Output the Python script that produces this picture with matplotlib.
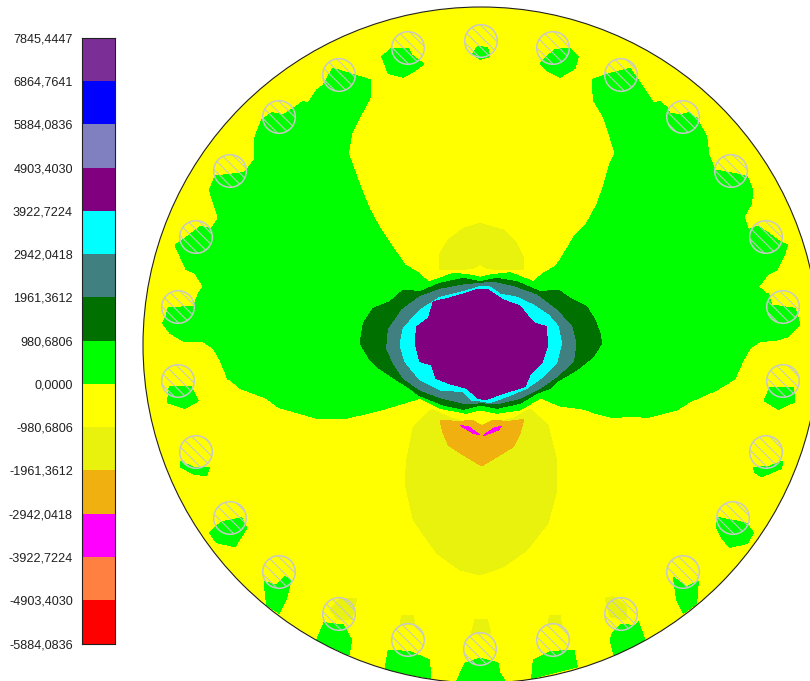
import matplotlib
matplotlib.use("Agg")
import matplotlib.pyplot as plt
import numpy as np
from matplotlib.patches import Circle

plt.rcParams['font.family'] = ['Liberation Sans', 'DejaVu Sans']
plt.rcParams['hatch.linewidth'] = 0.75

# Legend levels, top to bottom
level_labels = ['7845,4447', '6864,7641', '5884,0836', '4903,4030', '3922,7224',
                '2942,0418', '1961,3612', '980,6806', '0,0000', '-980,6806',
                '-1961,3612', '-2942,0418', '-3922,7224', '-4903,4030', '-5884,0836']
level_values = [7845.4447, 6864.7641, 5884.0836, 4903.4030, 3922.7224,
                2942.0418, 1961.3612, 980.6806, 0.0, -980.6806,
                -1961.3612, -2942.0418, -3922.7224, -4903.4030, -5884.0836]
level_colors = ['#7b2f96', '#0000ff', '#8080c0', '#800080', '#00ffff', '#408080', '#007000',
                '#00ff00', '#ffff00', '#e8f20c', '#f0b010', '#ff00ff', '#ff8040', '#ff0000']

# Disc and rotor holes, image pixels
disc_center = (481, 345)
disc_radius = 338
hole_radius = 16.3
hole_x = [481, 408, 339, 279, 230, 196, 178, 178, 196, 230, 279, 339, 408, 480,
          553, 621, 683, 731, 766, 783, 783, 766, 733, 683, 621, 553]
hole_y = [41, 48, 75, 117, 171, 237, 307, 381, 452, 518, 572, 614, 640, 649,
          48, 75, 117, 171, 237, 307, 381, 452, 518, 572, 614, 640]


def crop(points, x0, y0):
    p = np.array(points, dtype=float)
    return p[:, 0] / 3 + x0, p[:, 1] / 3 + y0


# Field contours
green_left = np.vstack([
    np.column_stack(crop([(835, 785), (800, 755), (765, 735), (720, 670), (690, 625), (660, 570),
                          (635, 510), (595, 400), (605, 340), (630, 290), (660, 235), (662, 180),
                          (615, 165), (548, 145), (520, 195), (500, 210), (475, 248), (458, 245),
                          (430, 265), (400, 285), (365, 278), (335, 300), (315, 350), (312, 420),
                          (290, 450), (280, 458), (195, 468), (178, 510), (205, 595), (185, 625),
                          (150, 620), (105, 655), (75, 675), (108, 748), (135, 760), (160, 800),
                          (145, 820)], 150, 20)),
    np.column_stack(crop([(145, 40), (130, 80), (55, 82), (48, 110), (38, 130), (60, 160), (100, 183),
                          (160, 185), (190, 205), (210, 240), (235, 300)], 150, 280)),
    np.column_stack(crop([(230, 80), (270, 115), (350, 145), (385, 172), (500, 205), (590, 205),
                          (700, 178), (810, 145)], 150, 350)),
    [[481, 345]],
])
green_right = np.vstack([
    np.column_stack(crop([(70, 785), (100, 760), (135, 740), (150, 720), (175, 680), (195, 645),
                          (230, 610), (260, 555), (280, 500), (300, 430), (315, 400), (300, 350),
                          (280, 290), (250, 240), (247, 178), (300, 160), (360, 145), (395, 195),
                          (430, 248), (450, 245), (470, 262), (480, 280), (510, 285), (535, 278),
                          (560, 295), (590, 350), (597, 405), (615, 450), (680, 462), (712, 470),
                          (728, 510), (725, 550), (702, 590), (715, 630), (745, 618), (810, 665),
                          (832, 675), (825, 700), (800, 750), (775, 762), (745, 800), (768, 820)],
                         510, 20)),
    np.column_stack(crop([(175, 40), (185, 75), (255, 85), (262, 105), (270, 135), (235, 170),
                          (200, 180), (150, 185), (120, 205), (100, 240), (75, 295)], 710, 280)),
    np.column_stack(crop([(797, 85), (740, 120), (660, 155), (620, 180), (530, 203), (490, 198),
                          (430, 203), (370, 188), (345, 178), (270, 168), (215, 145)], 470, 350)),
    [[481, 345]],
])

green_teeth = [
    crop([(5, 170), (35, 145), (85, 145), (95, 165), (132, 192), (100, 215), (70, 232), (25, 220)], 380, 0),
    crop([(278, 162), (292, 140), (322, 142), (330, 170), (300, 178)], 380, 0),
    crop([(480, 190), (525, 148), (568, 145), (595, 170), (585, 205), (540, 232), (505, 215)], 380, 0),
    crop([(58, 108), (122, 108), (145, 152), (105, 175), (52, 158)], 150, 350),
    crop([(92, 335), (130, 352), (178, 352), (170, 378), (130, 372), (90, 350)], 150, 350),
    crop([(178, 548), (215, 515), (275, 503), (290, 535), (255, 590), (200, 578)], 150, 350),
    crop([(342, 695), (380, 705), (405, 680), (423, 690), (410, 745), (388, 790), (350, 765)], 150, 350),
    crop([(522, 818), (580, 825), (605, 870), (597, 915), (500, 870)], 150, 350),
    crop([(715, 900), (780, 905), (838, 930), (843, 985), (705, 960)], 150, 350),
    crop([(945, 940), (990, 925), (1044, 939), (1050, 969), (1065, 993), (920, 993)], 150, 350),
    crop([(900, 112), (970, 112), (975, 155), (925, 178), (882, 152)], 470, 350),
    crop([(850, 352), (895, 350), (938, 333), (935, 355), (875, 380), (855, 368)], 470, 350),
    crop([(745, 503), (785, 510), (830, 520), (850, 548), (832, 580), (780, 592), (755, 565), (738, 530)], 470, 350),
    crop([(610, 682), (650, 710), (685, 695), (680, 760), (640, 790), (620, 750)], 470, 350),
    crop([(430, 845), (455, 822), (495, 828), (505, 815), (525, 870), (432, 915), (420, 870)], 470, 350),
    crop([(190, 930), (240, 905), (312, 900), (322, 950), (185, 985)], 470, 350),
]

pale_patches = [
    crop([(540, 780), (570, 745), (620, 745), (605, 810), (565, 810)], 150, 350),
    crop([(750, 825), (755, 795), (790, 795), (795, 825)], 150, 350),
    crop([(965, 850), (975, 808), (1011, 808), (1023, 850)], 150, 350),
    crop([(235, 825), (238, 795), (270, 795), (275, 825)], 470, 350),
    crop([(405, 745), (430, 740), (470, 770), (470, 810), (420, 800)], 470, 350),
    # dome above the core
    crop([(297, 150), (300, 100), (325, 60), (370, 25), (420, 10), (490, 30), (530, 70), (550, 110),
          (552, 150), (480, 150), (440, 145), (420, 133), (400, 145), (350, 150)], 340, 220),
    # shield below the core
    crop([(845, 178), (790, 230), (770, 330), (765, 400), (790, 510), (860, 610), (930, 660), (990, 675),
          (1059, 651), (1131, 600), (1194, 519), (1221, 420), (1218, 321), (1194, 225),
          (1140, 177), (1090, 205), (990, 225), (905, 205)], 150, 350),
]

ring_green = crop([(270, 185), (340, 160), (390, 165), (420, 172), (450, 165), (510, 158), (580, 185),
                   (700, 370), (600, 535), (540, 570), (470, 580), (420, 570), (380, 580), (300, 565),
                   (240, 535), (100, 370)], 340, 220)
ring_dark = crop([(420, 185), (470, 175), (530, 185), (600, 215), (655, 210), (690, 235), (740, 260),
                  (765, 300), (780, 340), (785, 370), (760, 410), (710, 450), (650, 485), (630, 505),
                  (590, 520), (540, 550), (470, 565), (420, 555), (370, 568), (310, 555), (235, 525),
                  (210, 505), (170, 480), (110, 440), (90, 420), (60, 370), (70, 310), (100, 265),
                  (150, 245), (190, 210), (240, 215), (300, 190), (370, 175)], 340, 220)
ring_teal = crop([(420, 190), (460, 187), (520, 200), (590, 225), (650, 270), (695, 320), (708, 370),
                  (700, 425), (650, 470), (600, 505), (540, 535), (470, 552), (425, 548), (380, 552),
                  (300, 533), (240, 510), (190, 475), (160, 430), (140, 385), (145, 330), (185, 270),
                  (240, 230), (300, 208), (370, 195)], 340, 220)
ring_cyan = crop([(420, 200), (445, 198), (480, 222), (530, 232), (580, 255), (625, 285), (655, 320),
                  (665, 370), (650, 430), (610, 470), (560, 505), (500, 530), (450, 548), (420, 543),
                  (395, 540), (370, 515), (300, 510), (240, 480), (195, 425), (180, 375), (190, 325),
                  (240, 270), (300, 232), (370, 215)], 340, 220)
core_purple = crop([(415, 207), (440, 207), (490, 240), (540, 258), (565, 290), (585, 310), (620, 320),
                    (622, 380), (605, 430), (570, 465), (555, 500), (490, 520), (435, 540), (415, 535),
                    (380, 505), (325, 490), (288, 475), (275, 435), (240, 425), (225, 370), (230, 320),
                    (265, 295), (280, 245), (325, 235), (370, 222)], 340, 220)
low_orange = crop([(300, 600), (360, 605), (395, 600), (425, 617), (460, 600), (500, 605), (552, 598),
                   (540, 640), (520, 680), (480, 705), (425, 738), (370, 705), (325, 675), (310, 640)], 340, 220)
low_magenta = [
    crop([(362, 617), (385, 620), (420, 645), (400, 640)], 340, 220),
    crop([(430, 647), (460, 625), (485, 618), (475, 630)], 340, 220),
]

fig = plt.figure(figsize=(8.10, 6.81), dpi=100)

# Main field, axes in image pixels
ax = fig.add_axes([0, 0, 1, 1])
ax.set_xlim(0, 810)
ax.set_ylim(681, 0)
ax.axis('off')

disc = Circle(disc_center, disc_radius, facecolor='#ffff00', edgecolor='none', zorder=1)
ax.add_patch(disc)


def region(x, y, color, z):
    for patch in ax.fill(x, y, color=color, linewidth=0, antialiased=False, zorder=z):
        patch.set_clip_path(disc)


for x, y in pale_patches:
    region(x, y, '#e8f20c', 2)
region(green_left[:, 0], green_left[:, 1], '#00ff00', 3)
region(green_right[:, 0], green_right[:, 1], '#00ff00', 3)
for x, y in green_teeth:
    region(x, y, '#00ff00', 3)
region(*ring_green, '#00ff00', 4)
region(*ring_dark, '#007000', 5)
region(*ring_teal, '#408080', 6)
region(*ring_cyan, '#00ffff', 7)
region(*core_purple, '#800080', 8)
region(*low_orange, '#f0b010', 4)
for x, y in low_magenta:
    region(x, y, '#ff00ff', 5)

ax.add_patch(Circle(disc_center, disc_radius, fill=False, edgecolor='#202020', linewidth=0.8, zorder=9))

for hx, hy in zip(hole_x, hole_y):
    ax.add_patch(Circle((hx, hy), hole_radius, fill=False, edgecolor='#c8c8c8', hatch='\\\\\\',
                        linewidth=1.1, zorder=10))

# Legend bar
cax = fig.add_axes([82 / 810, 1 - 643.5 / 681, 33 / 810, 605.5 / 681])
tops = np.array(level_values[:-1])
bottoms = np.array(level_values[1:])
cax.bar(0, tops - bottoms, bottom=bottoms, width=1, color=level_colors, linewidth=0)
cax.set_xlim(-0.5, 0.5)
cax.set_ylim(level_values[-1], level_values[0])
cax.set_xticks([])
cax.set_yticks(level_values)
cax.set_yticklabels(level_labels, fontsize=9.1, color='#202020')
cax.tick_params(axis='y', length=0, pad=6.5)
for spine in cax.spines.values():
    spine.set_linewidth(0.8)
    spine.set_color('#202020')

fig.savefig('out.png', dpi=100)
